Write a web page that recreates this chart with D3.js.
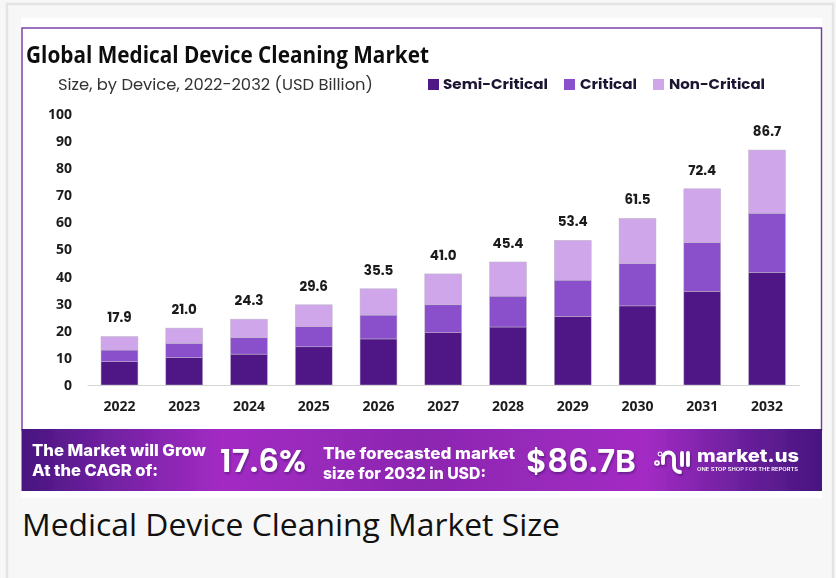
<!DOCTYPE html>
<html><head><meta charset="utf-8">
<script src="https://cdn.jsdelivr.net/npm/d3@7/dist/d3.min.js"></script>
<style>html,body{margin:0;padding:0;background:#f7f7f7;overflow:hidden}svg{display:block}</style>
</head><body><svg id="c" width="836" height="578"></svg>
<script>
const years=["2022","2023","2024","2025","2026","2027","2028","2029","2030","2031","2032"];
const semiCritical=[8.6,10.1,11.4,14.1,17.0,19.3,21.4,25.3,29.2,34.6,41.6];
const critical=[4.3,5.3,6.1,7.5,8.8,10.3,11.4,13.4,15.6,17.9,21.8];
const nonCritical=[5.0,5.6,6.8,8.0,9.7,11.4,12.6,14.7,16.7,19.9,23.3];
const totals=["17.9","21.0","24.3","29.6","35.5","41.0","45.4","53.4","61.5","72.4","86.7"];
const seriesNames=["Semi-Critical","Critical","Non-Critical"];
const seriesColors=["#4f1785","#8a4fca","#cfa6ea"];
const yTicks=[0,10,20,30,40,50,60,70,80,90,100];

const svg=d3.select("#c");
const poppins="Poppins,Inter,'Open Sans',sans-serif";
const inter="Inter,'Open Sans',sans-serif";
const defs=svg.append("defs");
const g=defs.append("linearGradient").attr("id","band");
[[0,"#47157f"],[0.09,"#6a1f9c"],[0.25,"#a32bc4"],[0.5,"#8c27b0"],[0.78,"#a32bc4"],[0.9,"#6a1f9c"],[1,"#47157f"]]
 .forEach(([o,c])=>g.append("stop").attr("offset",o).attr("stop-color",c));
const soft=defs.append("filter").attr("id","soft").attr("x","-5%").attr("y","-5%").attr("width","110%").attr("height","110%");
soft.append("feGaussianBlur").attr("stdDeviation",0.45);
const shadow=defs.append("filter").attr("id","sh").attr("x","-10%").attr("y","-20%").attr("width","120%").attr("height","150%");
shadow.append("feDropShadow").attr("dx",1).attr("dy",1.5).attr("stdDeviation",1.2).attr("flood-color","#2a0a50").attr("flood-opacity",0.55);

// page frame
svg.append("rect").attr("x",7).attr("y",4).attr("width",826).attr("height",580).attr("fill","#f7f7f7").attr("stroke","#e4e4e4").attr("stroke-width",2.5);
svg.append("rect").attr("x",21).attr("y",18).attr("width",801).attr("height",480).attr("fill","#fff");
svg.append("rect").attr("x",22).attr("y",28).attr("width",799.5).attr("height",402).attr("fill","#fff").attr("stroke","#7338a0").attr("stroke-width",1.4);

const root=svg.append("g").attr("filter","url(#soft)");

// headings
root.append("text").attr("x",26).attr("y",63).attr("font-family","'Open Sans',sans-serif").attr("font-weight",700).attr("font-size",22.5).attr("fill","#111").attr("textLength",403).attr("lengthAdjust","spacingAndGlyphs").text("Global Medical Device Cleaning Market");
root.append("text").attr("x",58).attr("y",90).attr("font-family",poppins).attr("font-size",16).attr("fill","#333").attr("textLength",315).attr("lengthAdjust","spacingAndGlyphs").text("Size, by Device, 2022-2032 (USD Billion)");

// legend
const legX=[428,564,653], legTextX=[443,580,669], legW=[105,57,96];
seriesNames.forEach((n,i)=>{
  root.append("rect").attr("x",legX[i]).attr("y",79).attr("width",11).attr("height",11).attr("fill",seriesColors[i]);
  root.append("text").attr("x",legTextX[i]).attr("y",89).attr("font-family",poppins).attr("font-weight",700).attr("font-size",14.5).attr("fill","#1b1230").attr("textLength",legW[i]).attr("lengthAdjust","spacingAndGlyphs").text(n);
});

// scales
const x=d3.scaleBand().domain(years).range([87.1,799.4]).paddingInner(0.43).paddingOuter(0.215);
const y=d3.scaleLinear().domain([0,100]).range([385,114]);

// y axis
const ya=root.append("g").attr("transform","translate(72,0)").call(d3.axisLeft(y).tickValues(yTicks).tickSize(0).tickPadding(0));
ya.select(".domain").remove();
ya.selectAll("text").attr("font-family","'Open Sans',sans-serif").attr("font-weight",700).attr("font-size",14).attr("fill","#1d1d1d");

// bars
const rows=years.map((yr,i)=>({yr,s0:semiCritical[i],s1:critical[i],s2:nonCritical[i]}));
const stack=d3.stack().keys(["s0","s1","s2"])(rows);
root.append("g").selectAll("g").data(stack).join("g").attr("fill",(d,i)=>seriesColors[i])
 .selectAll("rect").data(d=>d).join("rect")
 .attr("x",d=>x(d.data.yr)).attr("width",x.bandwidth())
 .attr("y",d=>y(d[1])).attr("height",d=>y(d[0])-y(d[1]))
 .attr("stroke","#bdb6c6").attr("stroke-width",0.5);

// x axis
const xa=root.append("g").attr("transform","translate(0,385)").call(d3.axisBottom(x).tickSize(0).tickPadding(16));
xa.select(".domain").attr("stroke","#d5d5d5").attr("stroke-width",1);
xa.selectAll("text").attr("font-family","'Open Sans',sans-serif").attr("font-weight",700).attr("font-size",14).attr("fill","#1d1d1d");

// totals
root.append("g").selectAll("text").data(years).join("text")
 .attr("x",d=>x(d)+x.bandwidth()/2)
 .attr("y",(d,i)=>y(+totals[i])-14)
 .attr("text-anchor","middle").attr("font-family",poppins).attr("font-weight",700).attr("font-size",13.5).attr("fill","#1a1a1a")
 .text((d,i)=>totals[i]);

// banner
const ban=svg.append("g").attr("filter","url(#soft)");
ban.append("rect").attr("x",21.5).attr("y",429).attr("width",800.5).attr("height",62).attr("fill","url(#band)");
const wt=(s,xp,yp,fs,w,fw,fam)=>ban.append("text").attr("x",xp).attr("y",yp).attr("font-family",fam||inter).attr("font-weight",fw||800).attr("font-size",fs).attr("fill","#fff").attr("textLength",w).attr("lengthAdjust","spacingAndGlyphs").text(s);
wt("The Market will Grow",32,456,16,174);
wt("At the CAGR of:",32,476,16,126);
wt("17.6%",220,472,32,86,600,poppins).attr("filter","url(#sh)");
wt("The forecasted market",323,459,16,192);
wt("size for 2032 in USD:",323,479,16,163);
wt("$86.7B",526,472,32,110,600,poppins).attr("filter","url(#sh)");
// logo
const lg=ban.append("g").attr("fill","none").attr("stroke","#fff").attr("stroke-width",3.8).attr("stroke-linecap","round").attr("filter","url(#sh)");
lg.append("path").attr("d","M663 463 v-5 a5.5 5.5 0 0 1 11 0 v8 a6 6 0 0 0 6 6");
lg.append("path").attr("d","M682 453 v12");
lg.append("path").attr("d","M688 453 v12");
lg.append("circle").attr("cx",657).attr("cy",463).attr("r",0.9);
lg.append("circle").attr("cx",660).attr("cy",454).attr("r",0.5);
wt("market.us",697,462,17.5,102);
wt("ONE STOP SHOP FOR THE REPORTS",697,471.3,4.6,101,600);

// caption
svg.append("text").attr("x",22).attr("y",536).attr("font-family","'Open Sans',sans-serif").attr("font-size",31).attr("fill","#111").attr("textLength",538).attr("lengthAdjust","spacingAndGlyphs").text("Medical Device Cleaning Market Size");
</script></body></html>
